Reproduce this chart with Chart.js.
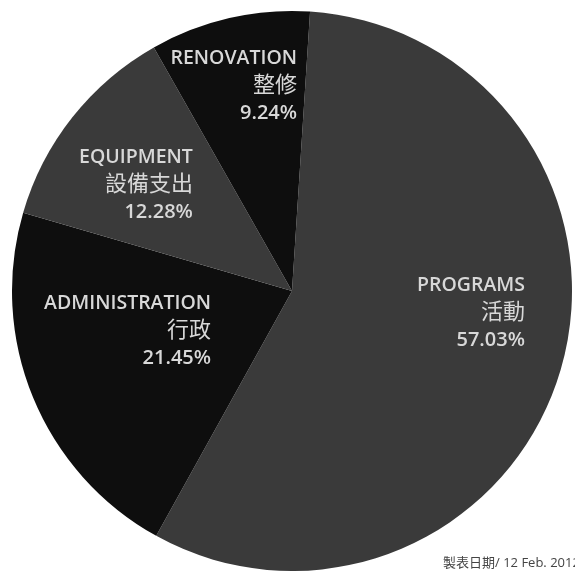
<!DOCTYPE html>
<html>
<head>
<meta charset="utf-8">
<script src="https://cdn.jsdelivr.net/npm/chart.js@4"></script>
<style>
    body { margin: 0; background: #fff; }
    #wrap { position: relative; width: 575px; height: 571px; overflow: hidden; }
    #footer {
        position: absolute; left: 443px; top: 552px; white-space: nowrap;
        font: 13px "Open Sans", "Noto Sans CJK TC", sans-serif; color: #444;
    }
</style>
</head>
<body>
<div id="wrap">
    <canvas id="pieChart" width="575" height="571"></canvas>
    <div id="footer">製表日期/ 12 Feb. 2012</div>
</div>
<script>
// data
const labelsEn = ['PROGRAMS', 'ADMINISTRATION', 'EQUIPMENT', 'RENOVATION'];
const labelsZh = ['活動', '行政', '設備支出', '整修'];
const shares = [57.03, 21.45, 12.28, 9.24];

// slice colours
const sliceColors = ['#3a3a3a', '#0e0e0e', '#3a3a3a', '#0e0e0e'];
// where each label block sits (right edge, middle line) as fraction of radius from centre
const labelSpots = [[0.832, 0.079], [-0.289, 0.143], [-0.354, -0.379], [0.018, -0.732]];
const lineFonts = ['600 19.5px', '400 22px', '600 20px'];

const sliceLabels = {
    id: 'sliceLabels',
    afterDatasetsDraw(chart) {
        const c = chart.ctx;
        const arcs = chart.getDatasetMeta(0).data;
        c.save();
        c.fillStyle = '#d8d8d8';
        c.textAlign = 'right';
        c.textBaseline = 'middle';
        arcs.forEach((arc, i) => {
            const p = arc.getProps(['x', 'y', 'outerRadius'], true);
            const x = p.x + labelSpots[i][0] * p.outerRadius;
            const y = p.y + labelSpots[i][1] * p.outerRadius;
            const lines = [labelsEn[i], labelsZh[i], shares[i].toFixed(2) + '%'];
            lines.forEach((t, k) => {
                c.font = lineFonts[k] + ' "Open Sans", "Noto Sans CJK TC", sans-serif';
                c.fillText(t, x, y + (k - 1) * 27.5);
            });
        });
        c.restore();
    }
};

new Chart(document.getElementById('pieChart'), {
    type: 'pie',
    data: {
        labels: labelsEn,
        datasets: [{
            data: shares,
            backgroundColor: sliceColors,
            borderWidth: 0
        }]
    },
    options: {
        responsive: false,
        animation: false,
        rotation: 3.7,
        layout: { padding: { left: 12, right: 3, top: 11, bottom: 0 } },
        plugins: {
            legend: { display: false },
            tooltip: { enabled: false }
        }
    },
    plugins: [sliceLabels]
});
</script>
</body>
</html>
